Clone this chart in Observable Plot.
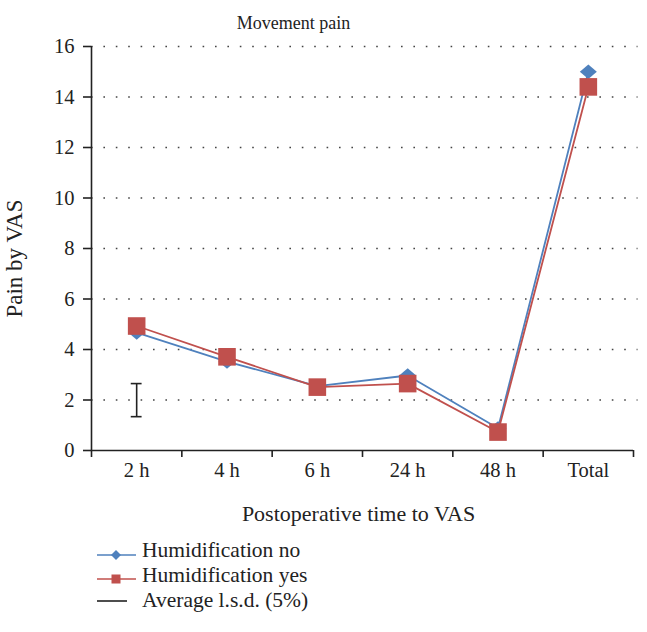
<!DOCTYPE html>
<html><head><meta charset="utf-8">
<script src="https://cdn.jsdelivr.net/npm/d3@7"></script>
<script src="https://cdn.jsdelivr.net/npm/@observablehq/plot@0.6"></script>
<style>
body{margin:0;background:#fff;}
#wrap{position:relative;width:647px;height:632px;font-family:"Liberation Serif","Times New Roman",serif;color:#222;background:#fff;}
#wrap svg{display:block;}
#wrap svg, #wrap svg text{font-family:"Liberation Serif","Times New Roman",serif !important;}
#legend{position:absolute;left:0;top:530px;}
</style></head><body><div id="wrap"></div>
<script>
// ---- data ----
const categories = ["2 h", "4 h", "6 h", "24 h", "48 h", "Total"];
const humidNo  = [4.67, 3.52, 2.55, 2.97, 0.88, 15.0];
const humidYes = [4.93, 3.71, 2.51, 2.65, 0.73, 14.4];
const lsdCategory = "2 h";
const lsdRange = [1.34, 2.65];
const yTicks = [0, 2, 4, 6, 8, 10, 12, 14, 16];
const seriesNames = ["Humidification no", "Humidification yes", "Average l.s.d. (5%)"];
const title = "Movement pain";
const xLabel = "Postoperative time to VAS";
const yLabel = "Pain by VAS";

// ---- styling ----
const BLUE = "#4F81BD", RED = "#C0504D", INK = "#222";
const FONT = '"Liberation Serif","Times New Roman",serif';

const rowsNo = categories.map((c, i) => ({i, v: humidNo[i]}));
const rowsYes = categories.map((c, i) => ({i, v: humidYes[i]}));
const lsdI = categories.indexOf(lsdCategory);
const lsdRows = [{i: lsdI, low: lsdRange[0], high: lsdRange[1]}];
const lsdEnds = lsdRange.map(v => ({i: lsdI, v}));
const gridTicks = yTicks.filter(t => t !== 0);
const xMin = -0.5, xMax = categories.length - 0.5;

const diamondSym = {draw(ctx, size) {
  const r = Math.sqrt(size / Math.PI);
  ctx.moveTo(0, -r * 0.84); ctx.lineTo(r, 0); ctx.lineTo(0, r * 0.84); ctx.lineTo(-r, 0); ctx.closePath();
}};
const squareSym = {draw(ctx, size) {
  const r = Math.sqrt(size / Math.PI);
  ctx.rect(-r, -r, 2 * r, 2 * r);
}};

const chart = Plot.plot({
  width: 647, height: 530,
  marginTop: 46, marginBottom: 80, marginLeft: 91, marginRight: 14,
  style: {fontFamily: FONT, fontSize: "20px", color: INK, background: "#fff"},
  x: {domain: [xMin, xMax]},
  y: {domain: [yTicks[0], yTicks[yTicks.length - 1]]},
  marks: [
    Plot.ruleY(gridTicks, {x1: xMin, x2: xMax + 0.05, stroke: "#444", strokeWidth: 1.6, strokeDasharray: "1.6,10.8"}),
    Plot.axisY({ticks: yTicks, tickSize: 8, tickPadding: 9, strokeWidth: 1.6, label: null, fontSize: 20.5}),
    Plot.axisX({ticks: d3.range(xMin, xMax + 0.01, 1), tickSize: 7, tickFormat: () => "", strokeWidth: 1.6, label: null}),
    Plot.axisX({ticks: d3.range(categories.length), tickSize: 0, tickPadding: 12, tickFormat: i => categories[i], label: null, fontSize: 20.5}),
    Plot.ruleX([xMin], {stroke: INK, strokeWidth: 1.6}),
    Plot.ruleY([0], {x1: xMin, x2: xMax, stroke: INK, strokeWidth: 1.6}),
    // l.s.d. bar
    Plot.ruleX(lsdRows, {x: "i", y1: "low", y2: "high", stroke: INK, strokeWidth: 1.6}),
    Plot.ruleY(lsdEnds, {y: "v", x1: d => d.i - 0.06, x2: d => d.i + 0.06, stroke: INK, strokeWidth: 1.6}),
    // series
    Plot.line(rowsNo, {x: "i", y: "v", stroke: BLUE, strokeWidth: 1.8}),
    Plot.dot(rowsNo, {x: "i", y: "v", symbol: diamondSym, r: 8.5, fill: BLUE, stroke: "none"}),
    Plot.line(rowsYes, {x: "i", y: "v", stroke: RED, strokeWidth: 1.8}),
    Plot.dot(rowsYes, {x: "i", y: "v", symbol: squareSym, r: 8.8, fill: RED, stroke: "none"}),
    // title and axis labels
    Plot.text([title], {frameAnchor: "top", text: d => d, dx: -69, dy: -18, lineAnchor: "bottom", textAnchor: "middle", fontSize: 18, fill: INK}),
    Plot.text([xLabel], {frameAnchor: "bottom", text: d => d, dx: -4, dy: 70, lineAnchor: "bottom", textAnchor: "middle", fontSize: 22, fill: INK}),
    Plot.text([yLabel], {frameAnchor: "left", text: d => d, dx: -70, dy: 10, rotate: -90, lineAnchor: "bottom", textAnchor: "middle", fontSize: 23, fill: INK})
  ]
});
document.getElementById("wrap").appendChild(chart);

// ---- legend ----
const leg = d3.create("svg").attr("id", "legend").attr("width", 647).attr("height", 102)
  .style("font-family", FONT).style("font-size", "21.5px");
const lineYs = [25, 49, 71];
const textYs = [27, 52, 77];
seriesNames.forEach((name, k) => {
  const g = leg.append("g");
  const color = k === 0 ? BLUE : k === 1 ? RED : INK;
  g.append("line").attr("x1", 97).attr("x2", k === 2 ? 127 : 136)
    .attr("y1", lineYs[k]).attr("y2", lineYs[k]).attr("stroke", color).attr("stroke-width", 1.6);
  if (k === 0) g.append("path").attr("d", `M116,${lineYs[k]-5}L121,${lineYs[k]}L116,${lineYs[k]+5}L111,${lineYs[k]}Z`).attr("fill", BLUE);
  if (k === 1) g.append("rect").attr("x", 111.5).attr("y", lineYs[k] - 4.5).attr("width", 9).attr("height", 9).attr("fill", RED);
  g.append("text").attr("x", 142).attr("y", textYs[k]).attr("fill", INK).text(name);
});
document.getElementById("wrap").appendChild(leg.node());
</script></body></html>
